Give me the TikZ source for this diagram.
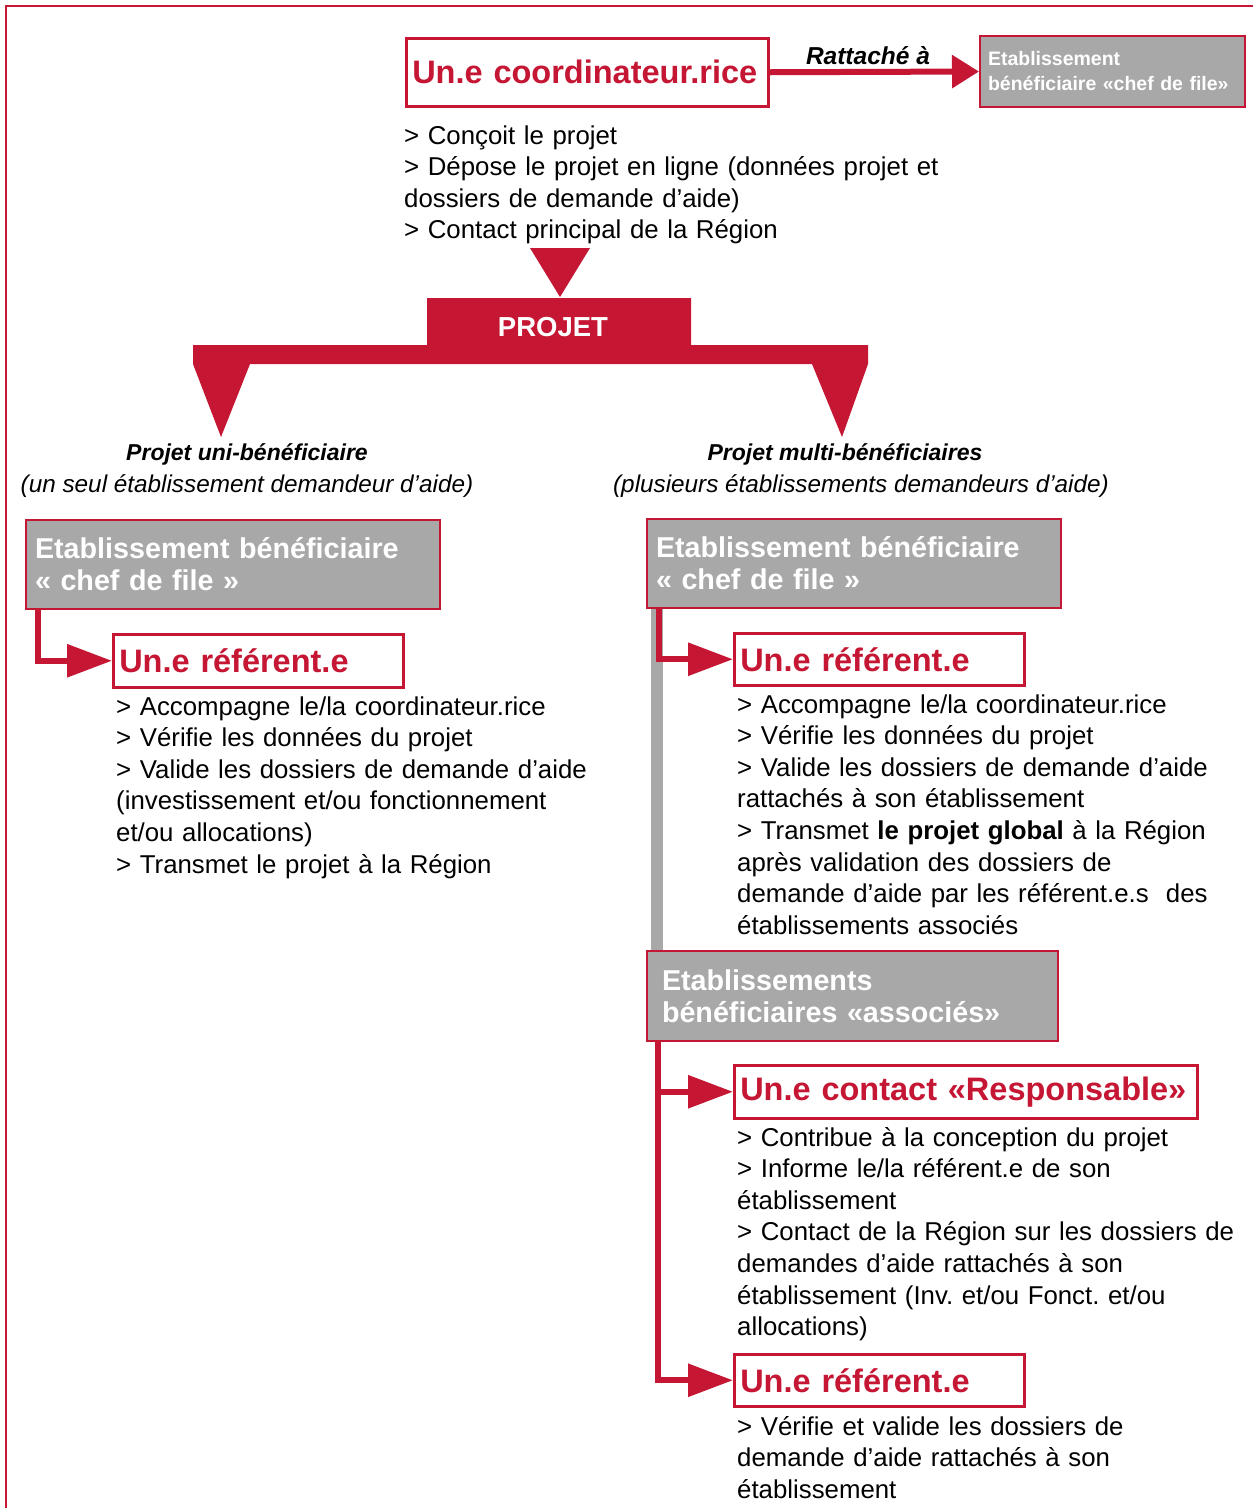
\documentclass[tikz,border=0pt]{standalone}
\usepackage{fontspec}
\setmainfont{Liberation Sans}
\frenchspacing
\usetikzlibrary{arrows.meta,positioning}
\definecolor{regred}{RGB}{197,22,52}
\definecolor{boxgray}{RGB}{168,168,168}
\tikzset{
    redbox/.style={draw=regred, line width=2.5pt, fill=white, text=regred, anchor=north west,
        inner xsep=6pt, inner ysep=0pt, align=left, font=\fontsize{32.5}{36}\selectfont\bfseries},
    graybox/.style={draw=regred, line width=2pt, fill=boxgray, text=white, anchor=north west,
        inner xsep=9pt, inner ysep=0pt, align=left, font=\fontsize{28.7}{32}\selectfont\bfseries},
    bodytext/.style={anchor=base west, inner sep=0pt, align=left, text width=560pt,
        font=\fontsize{25.8}{31.6}\selectfont},
    heading/.style={anchor=base, inner sep=0pt, font=\fontsize{23}{28}\selectfont\bfseries\itshape},
    subheading/.style={anchor=base, inner sep=0pt, font=\fontsize{24.3}{28}\selectfont\itshape},
    link/.style={draw=regred, line width=6pt, -{Triangle[length=45pt,width=32pt]}},
    grayline/.style={draw=boxgray, line width=12pt},
}

\begin{document}
\begin{tikzpicture}[x=1pt, y=-1pt, line join=miter]
\useasboundingbox (0,0) rectangle (1253,1508);
\draw [regred, line width=2.5pt] (6,1508) -- (6,6) -- (1253,6);

% coordinateur
\node [redbox, minimum height=68pt, text width=350pt] (coord) at (405,37) {Un.e coordinateur.rice};
\node [graybox, minimum height=71pt, text width=249pt, inner xsep=8pt,
    font=\fontsize{19.5}{25}\selectfont\bfseries] (chefTop) at (979,35)
    {Etablissement\\bénéficiaire «chef de file»};
\draw [regred, line width=6pt, -{Triangle[length=27pt,width=32pt]}] (coord.east) -- (chefTop.west)
    node [pos=0.47, above=1pt, text=black, font=\fontsize{24.5}{28}\selectfont\bfseries\itshape] {Rattaché à};
\node [bodytext] (coordTxt) at (404,144) {> Conçoit le projet\\
> Dépose le projet en ligne (données projet et\\
dossiers de demande d’aide)\\
> Contact principal de la Région};

% projet
\fill [regred] (530,248) -- (590,248) -- (560,297) -- cycle;
\fill [regred] (427,298) -- (691,298) -- (691,345) -- (868,345) -- (868,364) -- (842,437)
    -- (812,364) -- (250,364) -- (221,437) -- (193,364) -- (193,345) -- (427,345) -- cycle;
\node [text=white, font=\fontsize{27.5}{30}\selectfont\bfseries] (projet) at (553,327) {PROJET};

\node [heading] (uniT) at (247,460) {Projet uni-bénéficiaire};
\node [subheading] (uniS) at (247,492) {(un seul établissement demandeur d'aide)};
\node [heading] (multiT) at (845,460) {Projet multi-bénéficiaires};
\node [subheading] (multiS) at (861,492) {(plusieurs établissements demandeurs d'aide)};

% uni
\node [graybox, minimum height=89pt, text width=396pt] (chefL) at (25,519)
    {Etablissement bénéficiaire\\« chef de file »};
\node [redbox, minimum height=53pt, text width=278pt] (refL) at (112,633) {Un.e référent.e};
\draw [link] ([xshift=13pt]chefL.south west) |- (refL.west);
\node [bodytext] (refLTxt) at (116,715) {> Accompagne le/la coordinateur.rice\\
> Vérifie les données du projet\\
> Valide les dossiers de demande d’aide\\
(investissement et/ou fonctionnement\\
et/ou allocations)\\
> Transmet le projet à la Région};

% multi
\node [graybox, minimum height=89pt, text width=396pt] (chefR) at (646,518)
    {Etablissement bénéficiaire\\« chef de file »};
\node [graybox, minimum height=90pt, text width=381pt, inner xsep=15pt] (assoc) at (646,950)
    {Etablissements\\bénéficiaires «associés»};
\draw [grayline] ([xshift=11pt]chefR.south west) -- ([xshift=11pt]assoc.north west);
\node [redbox, minimum height=52pt, text width=278pt] (refR) at (733,632) {Un.e référent.e};
\draw [link] ([xshift=13pt]chefR.south west) |- (refR.west);
\node [bodytext] (refRTxt) at (737,713) {> Accompagne le/la coordinateur.rice\\
> Vérifie les données du projet\\
> Valide les dossiers de demande d’aide\\
rattachés à son établissement\\
> Transmet \textbf{le projet global} à la Région\\
après validation des dossiers de\\
demande d’aide par les référent.e.s~ des\\
établissements associés};

\node [redbox, minimum height=53pt, text width=451pt] (contact) at (733,1064) {Un.e contact «Responsable»};
\node [redbox, minimum height=52pt, text width=278pt] (refB) at (733,1353) {Un.e référent.e};
\draw [link] ([xshift=12pt]assoc.south west) |- (contact.west);
\draw [link] ([xshift=12pt]assoc.south west) |- (refB.west);
\node [bodytext] (contactTxt) at (737,1146) {> Contribue à la conception du projet\\
> Informe le/la référent.e de son\\
établissement\\
> Contact de la Région sur les dossiers de\\
demandes d’aide rattachés à son\\
établissement (Inv. et/ou Fonct. et/ou\\
allocations)};
\node [bodytext] (refBTxt) at (737,1435) {> Vérifie et valide les dossiers de\\
demande d’aide rattachés à son\\
établissement};
\end{tikzpicture}
\end{document}
